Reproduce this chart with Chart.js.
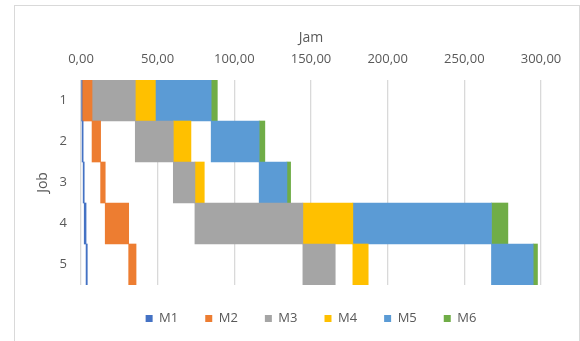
<!DOCTYPE html>
<html>
<head>
<meta charset="utf-8">
<script src="https://cdn.jsdelivr.net/npm/chart.js@4"></script>
<style>
    html, body { margin: 0; padding: 0; background: #fff; overflow: hidden; }
    #frame { position: absolute; left: 14px; top: 5px; width: 564px; height: 345px; border: 1px solid #d9d9d9; }
    #wrap { position: absolute; left: 0; top: 0; width: 580px; height: 341px; }
</style>
</head>
<body>
<div id="frame"></div>
<div id="wrap"><canvas id="gantt"></canvas></div>
<script>
// Jadwal job per mesin (jam mulai, jam selesai)
const jobs = ['1', '2', '3', '4', '5'];
const machines = ['M1', 'M2', 'M3', 'M4', 'M5', 'M6'];
const m1 = [[0, 0.7], [0.7, 1.4], [1.4, 2.1], [2.1, 3.3], [3.3, 4.1]];
const m2 = [[0.7, 7.2], [7.2, 12.8], [12.8, 15.8], [15.8, 31.1], [31.1, 35.9]];
const m3 = [[7.2, 35.4], [35.4, 60.2], [60.2, 74.3], [74.3, 144.7], [144.7, 165.8]];
const m4 = [[35.4, 48.5], [60.2, 71.7], [74.3, 80.4], [144.7, 177.3], [177.3, 187.3]];
const m5 = [[48.5, 84.9], [84.9, 116.2], [116.2, 134.3], [177.3, 267.7], [267.7, 294.9]];
const m6 = [[84.9, 88.9], [116.2, 119.9], [134.3, 136.7], [267.7, 278.4], [294.9, 297.7]];
const xTicks = [0, 50, 100, 150, 200, 250, 300];

const colors = ['#4472C4', '#ED7D31', '#A5A5A5', '#FFC000', '#5B9BD5', '#70AD47'];
const series = [m1, m2, m3, m4, m5, m6];
const font = "'Open Sans', sans-serif";
const textColor = '#595959';

new Chart(document.getElementById('gantt'), {
    type: 'bar',
    data: {
        labels: jobs,
        datasets: machines.map((m, i) => ({
            label: m,
            data: series[i],
            backgroundColor: colors[i],
            borderWidth: 0,
            grouped: false,
            barPercentage: 1,
            categoryPercentage: 1
        }))
    },
    options: {
        responsive: true,
        maintainAspectRatio: false,
        animation: false,
        indexAxis: 'y',
        layout: { padding: { left: 35, top: 30, right: 39, bottom: 6 } },
        scales: {
            x: {
                position: 'top',
                min: xTicks[0],
                max: xTicks[xTicks.length - 1],
                afterBuildTicks: s => { s.ticks = xTicks.map(v => ({ value: v })); },
                afterFit: s => { s.height = 50; },
                ticks: {
                    padding: 13,
                    color: textColor,
                    font: { family: font, size: 13 },
                    callback: v => v.toFixed(2).replace('.', ',')
                },
                grid: { color: '#d9d9d9', lineWidth: 1.3, drawTicks: false },
                border: { display: false },
                title: { display: true, text: 'Jam', color: textColor, font: { family: font, size: 14 }, padding: 0 }
            },
            y: {
                afterFit: s => { s.width = 46; },
                ticks: { padding: 14, color: textColor, font: { family: font, size: 13 } },
                grid: { display: false, drawTicks: false },
                border: { display: false },
                title: { display: true, text: 'Job', color: textColor, font: { family: font, size: 14 }, padding: 0 }
            }
        },
        plugins: {
            legend: {
                position: 'bottom',
                fullSize: false,
                labels: { boxWidth: 7, boxHeight: 7, padding: 27, color: textColor, font: { family: font, size: 13 } }
            },
            tooltip: { enabled: false }
        }
    }
});
</script>
</body>
</html>
